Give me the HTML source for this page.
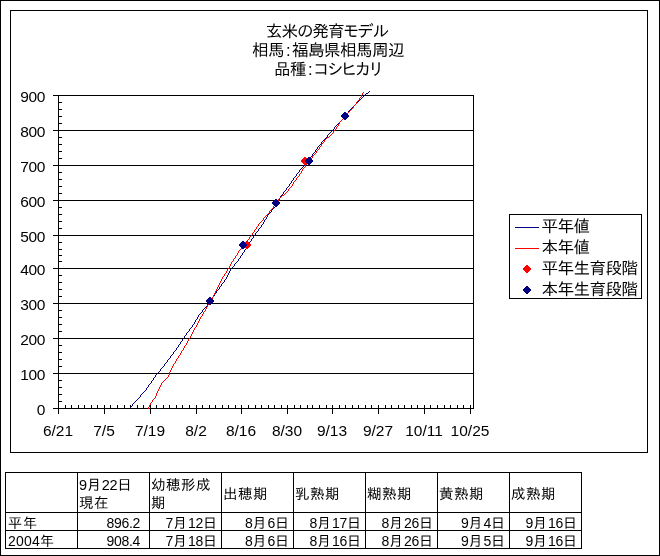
<!DOCTYPE html>
<html lang="ja"><head><meta charset="utf-8"><title>玄米の発育モデル</title>
<style>
html,body{margin:0;padding:0;background:#fff;}
body{width:660px;height:556px;position:relative;overflow:hidden;font-family:"Liberation Sans","IPAPGothic","IPAGothic",sans-serif;color:#000;}
.outer{position:absolute;left:0;top:0;width:660px;height:556px;box-sizing:border-box;border:1px solid #000;}
.frame{position:absolute;left:10px;top:10px;width:638px;height:443px;box-sizing:border-box;border:1px solid #000;}
.t{position:absolute;white-space:nowrap;}
.title{left:128px;width:400px;text-align:center;font-size:16.6px;line-height:19px;letter-spacing:-0.6px;}
.yl{font-size:15.5px;line-height:17px;width:40px;text-align:right;letter-spacing:-0.4px;}
.xl{font-size:15.5px;line-height:17px;width:60px;text-align:center;}
.c{margin:0 2px}
.k{letter-spacing:-0.3px}
.lg{font-size:16.6px;line-height:19px;left:541.5px;letter-spacing:-0.6px;}
table{position:absolute;left:5px;top:472px;border-collapse:collapse;table-layout:fixed;font-size:14px;letter-spacing:1px;}
td{border:1px solid #000;padding:4px 0 0 2px;width:69px;height:13px;line-height:13px;overflow:hidden;white-space:nowrap;box-sizing:content-box;vertical-align:top;}
tr.h td{height:36px;padding-top:3px;padding-left:1px;width:70px;font-size:14.5px;letter-spacing:0.5px;line-height:18px;white-space:normal;vertical-align:middle;}
td.r{text-align:right;padding:4px 3px 0 0;width:68px}
td.r.v{padding-right:9px;width:62px}
.n{letter-spacing:-0.3px}
.n2{letter-spacing:0.2px}
</style></head><body>
<div class="outer"></div>
<div class="frame"></div>
<svg width="660" height="556" viewBox="0 0 660 556" style="position:absolute;left:0;top:0" shape-rendering="crispEdges">
<rect x="53" y="95" width="421" height="1" fill="#000"/>
<rect x="53" y="130" width="421" height="1" fill="#000"/>
<rect x="53" y="165" width="421" height="1" fill="#000"/>
<rect x="53" y="200" width="421" height="1" fill="#000"/>
<rect x="53" y="235" width="421" height="1" fill="#000"/>
<rect x="53" y="268" width="421" height="1" fill="#000"/>
<rect x="53" y="303" width="421" height="1" fill="#000"/>
<rect x="53" y="338" width="421" height="1" fill="#000"/>
<rect x="53" y="373" width="421" height="1" fill="#000"/>
<rect x="53" y="408" width="421" height="1" fill="#000"/>
<rect x="58" y="95" width="1" height="319" fill="#000"/>
<rect x="473" y="95" width="1" height="314" fill="#000"/>
<rect x="58" y="95" width="4" height="1" fill="#000"/>
<rect x="58" y="102" width="4" height="1" fill="#000"/>
<rect x="58" y="109" width="4" height="1" fill="#000"/>
<rect x="58" y="116" width="4" height="1" fill="#000"/>
<rect x="58" y="123" width="4" height="1" fill="#000"/>
<rect x="58" y="130" width="4" height="1" fill="#000"/>
<rect x="58" y="137" width="4" height="1" fill="#000"/>
<rect x="58" y="144" width="4" height="1" fill="#000"/>
<rect x="58" y="151" width="4" height="1" fill="#000"/>
<rect x="58" y="158" width="4" height="1" fill="#000"/>
<rect x="58" y="165" width="4" height="1" fill="#000"/>
<rect x="58" y="172" width="4" height="1" fill="#000"/>
<rect x="58" y="179" width="4" height="1" fill="#000"/>
<rect x="58" y="186" width="4" height="1" fill="#000"/>
<rect x="58" y="193" width="4" height="1" fill="#000"/>
<rect x="58" y="200" width="4" height="1" fill="#000"/>
<rect x="58" y="207" width="4" height="1" fill="#000"/>
<rect x="58" y="214" width="4" height="1" fill="#000"/>
<rect x="58" y="221" width="4" height="1" fill="#000"/>
<rect x="58" y="228" width="4" height="1" fill="#000"/>
<rect x="58" y="235" width="4" height="1" fill="#000"/>
<rect x="58" y="242" width="4" height="1" fill="#000"/>
<rect x="58" y="249" width="4" height="1" fill="#000"/>
<rect x="58" y="255" width="4" height="1" fill="#000"/>
<rect x="58" y="261" width="4" height="1" fill="#000"/>
<rect x="58" y="268" width="4" height="1" fill="#000"/>
<rect x="58" y="275" width="4" height="1" fill="#000"/>
<rect x="58" y="282" width="4" height="1" fill="#000"/>
<rect x="58" y="289" width="4" height="1" fill="#000"/>
<rect x="58" y="296" width="4" height="1" fill="#000"/>
<rect x="58" y="303" width="4" height="1" fill="#000"/>
<rect x="58" y="310" width="4" height="1" fill="#000"/>
<rect x="58" y="317" width="4" height="1" fill="#000"/>
<rect x="58" y="324" width="4" height="1" fill="#000"/>
<rect x="58" y="331" width="4" height="1" fill="#000"/>
<rect x="58" y="338" width="4" height="1" fill="#000"/>
<rect x="58" y="345" width="4" height="1" fill="#000"/>
<rect x="58" y="352" width="4" height="1" fill="#000"/>
<rect x="58" y="359" width="4" height="1" fill="#000"/>
<rect x="58" y="366" width="4" height="1" fill="#000"/>
<rect x="58" y="373" width="4" height="1" fill="#000"/>
<rect x="58" y="380" width="4" height="1" fill="#000"/>
<rect x="58" y="387" width="4" height="1" fill="#000"/>
<rect x="58" y="394" width="4" height="1" fill="#000"/>
<rect x="58" y="401" width="4" height="1" fill="#000"/>
<rect x="58" y="408" width="4" height="1" fill="#000"/>
<rect x="58" y="405" width="1" height="4" fill="#000"/>
<rect x="65" y="405" width="1" height="4" fill="#000"/>
<rect x="71" y="405" width="1" height="4" fill="#000"/>
<rect x="78" y="405" width="1" height="4" fill="#000"/>
<rect x="84" y="405" width="1" height="4" fill="#000"/>
<rect x="91" y="405" width="1" height="4" fill="#000"/>
<rect x="97" y="405" width="1" height="4" fill="#000"/>
<rect x="104" y="405" width="1" height="4" fill="#000"/>
<rect x="110" y="405" width="1" height="4" fill="#000"/>
<rect x="117" y="405" width="1" height="4" fill="#000"/>
<rect x="124" y="405" width="1" height="4" fill="#000"/>
<rect x="130" y="405" width="1" height="4" fill="#000"/>
<rect x="137" y="405" width="1" height="4" fill="#000"/>
<rect x="143" y="405" width="1" height="4" fill="#000"/>
<rect x="150" y="405" width="1" height="4" fill="#000"/>
<rect x="156" y="405" width="1" height="4" fill="#000"/>
<rect x="163" y="405" width="1" height="4" fill="#000"/>
<rect x="169" y="405" width="1" height="4" fill="#000"/>
<rect x="176" y="405" width="1" height="4" fill="#000"/>
<rect x="182" y="405" width="1" height="4" fill="#000"/>
<rect x="189" y="405" width="1" height="4" fill="#000"/>
<rect x="196" y="405" width="1" height="4" fill="#000"/>
<rect x="202" y="405" width="1" height="4" fill="#000"/>
<rect x="209" y="405" width="1" height="4" fill="#000"/>
<rect x="215" y="405" width="1" height="4" fill="#000"/>
<rect x="222" y="405" width="1" height="4" fill="#000"/>
<rect x="228" y="405" width="1" height="4" fill="#000"/>
<rect x="235" y="405" width="1" height="4" fill="#000"/>
<rect x="241" y="405" width="1" height="4" fill="#000"/>
<rect x="248" y="405" width="1" height="4" fill="#000"/>
<rect x="255" y="405" width="1" height="4" fill="#000"/>
<rect x="261" y="405" width="1" height="4" fill="#000"/>
<rect x="268" y="405" width="1" height="4" fill="#000"/>
<rect x="274" y="405" width="1" height="4" fill="#000"/>
<rect x="281" y="405" width="1" height="4" fill="#000"/>
<rect x="287" y="405" width="1" height="4" fill="#000"/>
<rect x="294" y="405" width="1" height="4" fill="#000"/>
<rect x="300" y="405" width="1" height="4" fill="#000"/>
<rect x="307" y="405" width="1" height="4" fill="#000"/>
<rect x="312" y="405" width="1" height="4" fill="#000"/>
<rect x="319" y="405" width="1" height="4" fill="#000"/>
<rect x="326" y="405" width="1" height="4" fill="#000"/>
<rect x="332" y="405" width="1" height="4" fill="#000"/>
<rect x="339" y="405" width="1" height="4" fill="#000"/>
<rect x="345" y="405" width="1" height="4" fill="#000"/>
<rect x="352" y="405" width="1" height="4" fill="#000"/>
<rect x="358" y="405" width="1" height="4" fill="#000"/>
<rect x="365" y="405" width="1" height="4" fill="#000"/>
<rect x="371" y="405" width="1" height="4" fill="#000"/>
<rect x="378" y="405" width="1" height="4" fill="#000"/>
<rect x="385" y="405" width="1" height="4" fill="#000"/>
<rect x="391" y="405" width="1" height="4" fill="#000"/>
<rect x="398" y="405" width="1" height="4" fill="#000"/>
<rect x="404" y="405" width="1" height="4" fill="#000"/>
<rect x="411" y="405" width="1" height="4" fill="#000"/>
<rect x="417" y="405" width="1" height="4" fill="#000"/>
<rect x="424" y="405" width="1" height="4" fill="#000"/>
<rect x="430" y="405" width="1" height="4" fill="#000"/>
<rect x="437" y="405" width="1" height="4" fill="#000"/>
<rect x="444" y="405" width="1" height="4" fill="#000"/>
<rect x="450" y="405" width="1" height="4" fill="#000"/>
<rect x="457" y="405" width="1" height="4" fill="#000"/>
<rect x="463" y="405" width="1" height="4" fill="#000"/>
<rect x="470" y="405" width="1" height="4" fill="#000"/>
<rect x="58" y="405" width="1" height="9" fill="#000"/>
<rect x="104" y="405" width="1" height="9" fill="#000"/>
<rect x="150" y="405" width="1" height="9" fill="#000"/>
<rect x="196" y="405" width="1" height="9" fill="#000"/>
<rect x="241" y="405" width="1" height="9" fill="#000"/>
<rect x="287" y="405" width="1" height="9" fill="#000"/>
<rect x="332" y="405" width="1" height="9" fill="#000"/>
<rect x="378" y="405" width="1" height="9" fill="#000"/>
<rect x="424" y="405" width="1" height="9" fill="#000"/>
<rect x="470" y="405" width="1" height="9" fill="#000"/>
<path fill="#000080" d="M369 91h1v1h-1zM368 92h1v1h-1zM366 93h2v1h-2zM365 94h1v1h-1zM364 95h1v1h-1zM363 96h1v1h-1zM362 97h1v1h-1zM361 98h1v1h-1zM360 99h1v1h-1zM359 100h1v1h-1zM358 101h1v1h-1zM357 102h1v1h-1zM356 103h1v1h-1zM355 104h1v1h-1zM354 105h1v1h-1zM353 106h1v1h-1zM352 107h1v1h-1zM351 108h1v1h-1zM350 109h1v1h-1zM349 110h1v1h-1zM348 111h1v1h-1zM348 112h1v1h-1zM347 113h1v1h-1zM346 114h1v1h-1zM345 115h1v1h-1zM344 116h1v1h-1zM343 117h1v1h-1zM343 118h1v1h-1zM342 119h1v1h-1zM341 120h1v1h-1zM340 121h1v1h-1zM339 122h1v1h-1zM338 123h1v1h-1zM337 124h1v1h-1zM336 125h1v1h-1zM335 126h1v1h-1zM334 127h1v1h-1zM334 128h1v1h-1zM333 129h1v1h-1zM332 130h1v1h-1zM331 131h1v1h-1zM330 132h1v1h-1zM329 133h1v1h-1zM328 134h1v1h-1zM327 135h1v1h-1zM327 136h1v1h-1zM326 137h1v1h-1zM325 138h1v1h-1zM324 139h1v1h-1zM323 140h1v1h-1zM322 141h1v1h-1zM321 142h1v1h-1zM321 143h1v1h-1zM320 144h1v1h-1zM319 145h1v1h-1zM318 146h1v1h-1zM317 147h1v1h-1zM317 148h1v1h-1zM316 149h1v1h-1zM315 150h1v1h-1zM315 151h1v1h-1zM314 152h1v1h-1zM313 153h1v1h-1zM312 154h1v1h-1zM312 155h1v1h-1zM311 156h1v1h-1zM310 157h1v1h-1zM309 158h1v1h-1zM309 159h1v1h-1zM308 160h1v1h-1zM307 161h1v1h-1zM306 162h1v1h-1zM305 163h1v1h-1zM304 164h1v1h-1zM304 165h1v1h-1zM303 166h1v1h-1zM302 167h1v1h-1zM301 168h1v1h-1zM300 169h1v1h-1zM299 170h1v1h-1zM299 171h1v1h-1zM298 172h1v1h-1zM297 173h1v1h-1zM296 174h1v1h-1zM296 175h1v1h-1zM295 176h1v1h-1zM294 177h1v1h-1zM293 178h1v1h-1zM293 179h1v1h-1zM292 180h1v1h-1zM291 181h1v1h-1zM291 182h1v1h-1zM290 183h1v1h-1zM289 184h1v1h-1zM289 185h1v1h-1zM288 186h1v1h-1zM287 187h1v1h-1zM286 188h1v1h-1zM286 189h1v1h-1zM285 190h1v1h-1zM284 191h1v1h-1zM283 192h1v1h-1zM283 193h1v1h-1zM282 194h1v1h-1zM281 195h1v1h-1zM280 196h1v1h-1zM280 197h1v1h-1zM279 198h1v1h-1zM279 199h1v1h-1zM278 200h1v1h-1zM278 201h1v1h-1zM277 202h1v1h-1zM276 203h1v1h-1zM276 204h1v1h-1zM275 205h1v1h-1zM275 206h1v1h-1zM274 207h1v1h-1zM273 208h1v1h-1zM272 209h1v1h-1zM271 210h1v1h-1zM271 211h1v1h-1zM270 212h1v1h-1zM269 213h1v1h-1zM268 214h1v1h-1zM267 215h1v1h-1zM267 216h1v1h-1zM266 217h1v1h-1zM266 218h1v1h-1zM265 219h1v1h-1zM264 220h1v1h-1zM264 221h1v1h-1zM263 222h1v1h-1zM263 223h1v1h-1zM262 224h1v1h-1zM261 225h1v1h-1zM261 226h1v1h-1zM260 227h1v1h-1zM259 228h1v1h-1zM258 229h1v1h-1zM258 230h1v1h-1zM257 231h1v1h-1zM256 232h1v1h-1zM255 233h1v1h-1zM255 234h1v1h-1zM254 235h1v1h-1zM253 236h1v1h-1zM253 237h1v1h-1zM252 238h1v1h-1zM251 239h1v1h-1zM251 240h1v1h-1zM250 241h1v1h-1zM249 242h1v1h-1zM249 243h1v1h-1zM248 244h1v1h-1zM248 245h1v1h-1zM247 246h1v1h-1zM246 247h1v1h-1zM246 248h1v1h-1zM245 249h1v1h-1zM244 250h1v1h-1zM244 251h1v1h-1zM243 252h1v1h-1zM242 253h1v1h-1zM242 254h1v1h-1zM241 255h1v1h-1zM240 256h1v1h-1zM240 257h1v1h-1zM239 258h1v1h-1zM238 259h1v1h-1zM238 260h1v1h-1zM237 261h1v1h-1zM236 262h1v1h-1zM235 263h1v1h-1zM234 264h1v1h-1zM234 265h1v1h-1zM233 266h1v1h-1zM232 267h1v1h-1zM231 268h1v1h-1zM230 269h1v1h-1zM230 270h1v1h-1zM229 271h1v1h-1zM229 272h1v1h-1zM228 273h1v1h-1zM228 274h1v1h-1zM227 275h1v1h-1zM227 276h1v1h-1zM226 277h1v1h-1zM226 278h1v1h-1zM225 279h1v1h-1zM224 280h1v1h-1zM224 281h1v1h-1zM223 282h1v1h-1zM222 283h1v1h-1zM221 284h1v1h-1zM221 285h1v1h-1zM220 286h1v1h-1zM219 287h1v1h-1zM219 288h1v1h-1zM218 289h1v1h-1zM217 290h1v1h-1zM216 291h1v1h-1zM216 292h1v1h-1zM215 293h1v1h-1zM214 294h1v1h-1zM214 295h1v1h-1zM213 296h1v1h-1zM212 297h1v1h-1zM211 298h1v1h-1zM211 299h1v1h-1zM210 300h1v1h-1zM209 301h1v1h-1zM209 302h1v1h-1zM208 303h1v1h-1zM207 304h1v1h-1zM207 305h1v1h-1zM206 306h1v1h-1zM205 307h1v1h-1zM204 308h1v1h-1zM203 309h1v1h-1zM202 310h1v1h-1zM202 311h1v1h-1zM201 312h1v1h-1zM200 313h1v1h-1zM199 314h1v1h-1zM198 315h1v1h-1zM198 316h1v1h-1zM197 317h1v1h-1zM197 318h1v1h-1zM196 319h1v1h-1zM195 320h1v1h-1zM195 321h1v1h-1zM194 322h1v1h-1zM194 323h1v1h-1zM193 324h1v1h-1zM192 325h1v1h-1zM192 326h1v1h-1zM191 327h1v1h-1zM190 328h1v1h-1zM189 329h1v1h-1zM189 330h1v1h-1zM188 331h1v1h-1zM187 332h1v1h-1zM186 333h1v1h-1zM186 334h1v1h-1zM185 335h1v1h-1zM184 336h1v1h-1zM184 337h1v1h-1zM183 338h1v1h-1zM182 339h1v1h-1zM182 340h1v1h-1zM181 341h1v1h-1zM180 342h1v1h-1zM180 343h1v1h-1zM179 344h1v1h-1zM178 345h1v1h-1zM178 346h1v1h-1zM177 347h1v1h-1zM176 348h1v1h-1zM176 349h1v1h-1zM175 350h1v1h-1zM174 351h1v1h-1zM173 352h1v1h-1zM173 353h1v1h-1zM172 354h1v1h-1zM171 355h1v1h-1zM170 356h1v1h-1zM170 357h1v1h-1zM169 358h1v1h-1zM168 359h1v1h-1zM167 360h1v1h-1zM167 361h1v1h-1zM166 362h1v1h-1zM165 363h1v1h-1zM164 364h1v1h-1zM164 365h1v1h-1zM163 366h1v1h-1zM162 367h1v1h-1zM161 368h1v1h-1zM160 369h1v1h-1zM160 370h1v1h-1zM159 371h1v1h-1zM158 372h1v1h-1zM157 373h1v1h-1zM156 374h1v1h-1zM155 375h1v1h-1zM155 376h1v1h-1zM154 377h1v1h-1zM153 378h1v1h-1zM153 379h1v1h-1zM152 380h1v1h-1zM151 381h1v1h-1zM151 382h1v1h-1zM150 383h1v1h-1zM149 384h1v1h-1zM148 385h1v1h-1zM148 386h1v1h-1zM147 387h1v1h-1zM146 388h1v1h-1zM146 389h1v1h-1zM145 390h1v1h-1zM144 391h1v1h-1zM143 392h1v1h-1zM142 393h1v1h-1zM141 394h1v1h-1zM140 395h1v1h-1zM140 396h1v1h-1zM139 397h1v1h-1zM138 398h1v1h-1zM137 399h1v1h-1zM136 400h1v1h-1zM135 401h1v1h-1zM134 402h1v1h-1zM133 403h1v1h-1zM132 404h1v1h-1zM132 405h1v1h-1zM131 406h1v1h-1zM130 407h1v1h-1zM129 408h1v1h-1z"/>
<path fill="#ff0000" d="M363 92h1v1h-1zM362 93h1v1h-1zM362 94h1v1h-1zM361 95h1v1h-1zM361 96h1v1h-1zM360 97h1v1h-1zM359 98h1v1h-1zM359 99h1v1h-1zM358 100h1v1h-1zM357 101h1v1h-1zM356 102h1v1h-1zM356 103h1v1h-1zM355 104h1v1h-1zM354 105h1v1h-1zM353 106h1v1h-1zM353 107h1v1h-1zM352 108h1v1h-1zM351 109h1v1h-1zM350 110h1v1h-1zM349 111h1v1h-1zM348 112h1v1h-1zM347 113h1v1h-1zM346 114h1v1h-1zM345 115h1v1h-1zM345 116h1v1h-1zM344 117h1v1h-1zM343 118h1v1h-1zM342 119h1v1h-1zM341 120h1v1h-1zM340 121h1v1h-1zM339 122h1v1h-1zM339 123h1v1h-1zM338 124h1v1h-1zM338 125h1v1h-1zM337 126h1v1h-1zM336 127h1v1h-1zM336 128h1v1h-1zM335 129h1v1h-1zM334 130h1v1h-1zM333 131h1v1h-1zM333 132h1v1h-1zM332 133h1v1h-1zM331 134h1v1h-1zM330 135h1v1h-1zM329 136h1v1h-1zM327 137h2v1h-2zM326 138h1v1h-1zM325 139h1v1h-1zM324 140h1v1h-1zM324 141h1v1h-1zM323 142h1v1h-1zM322 143h1v1h-1zM321 144h1v1h-1zM321 145h1v1h-1zM320 146h1v1h-1zM319 147h1v1h-1zM319 148h1v1h-1zM318 149h1v1h-1zM317 150h1v1h-1zM316 151h1v1h-1zM316 152h1v1h-1zM315 153h1v1h-1zM314 154h1v1h-1zM313 155h1v1h-1zM312 156h1v1h-1zM312 157h1v1h-1zM311 158h1v1h-1zM310 159h1v1h-1zM309 160h1v1h-1zM309 161h1v1h-1zM308 162h1v1h-1zM307 163h1v1h-1zM306 164h1v1h-1zM305 165h1v1h-1zM305 166h1v1h-1zM304 167h1v1h-1zM303 168h1v1h-1zM302 169h1v1h-1zM302 170h1v1h-1zM301 171h1v1h-1zM301 172h1v1h-1zM300 173h1v1h-1zM299 174h1v1h-1zM299 175h1v1h-1zM298 176h1v1h-1zM297 177h1v1h-1zM296 178h1v1h-1zM296 179h1v1h-1zM295 180h1v1h-1zM294 181h1v1h-1zM293 182h1v1h-1zM293 183h1v1h-1zM292 184h1v1h-1zM292 185h1v1h-1zM291 186h1v1h-1zM290 187h1v1h-1zM289 188h1v1h-1zM288 189h1v1h-1zM288 190h1v1h-1zM287 191h1v1h-1zM286 192h1v1h-1zM285 193h1v1h-1zM284 194h1v1h-1zM282 195h2v1h-2zM281 196h1v1h-1zM280 197h1v1h-1zM279 198h1v1h-1zM278 199h1v1h-1zM278 200h1v1h-1zM277 201h1v1h-1zM276 202h1v1h-1zM276 203h1v1h-1zM275 204h1v1h-1zM274 205h1v1h-1zM273 206h1v1h-1zM273 207h1v1h-1zM272 208h1v1h-1zM271 209h1v1h-1zM270 210h1v1h-1zM269 211h1v1h-1zM269 212h1v1h-1zM268 213h1v1h-1zM267 214h1v1h-1zM266 215h1v1h-1zM265 216h1v1h-1zM264 217h1v1h-1zM263 218h1v1h-1zM263 219h1v1h-1zM262 220h1v1h-1zM261 221h1v1h-1zM260 222h1v1h-1zM259 223h1v1h-1zM258 224h1v1h-1zM258 225h1v1h-1zM257 226h1v1h-1zM256 227h1v1h-1zM256 228h1v1h-1zM255 229h1v1h-1zM254 230h1v1h-1zM254 231h1v1h-1zM253 232h1v1h-1zM252 233h1v1h-1zM252 234h1v1h-1zM251 235h1v1h-1zM250 236h1v1h-1zM249 237h1v1h-1zM249 238h1v1h-1zM248 239h1v1h-1zM247 240h1v1h-1zM246 241h1v1h-1zM245 242h1v1h-1zM244 243h1v1h-1zM244 244h1v1h-1zM243 245h1v1h-1zM242 246h1v1h-1zM241 247h1v1h-1zM241 248h1v1h-1zM240 249h1v1h-1zM239 250h1v1h-1zM238 251h1v1h-1zM238 252h1v1h-1zM237 253h1v1h-1zM237 254h1v1h-1zM236 255h1v1h-1zM235 256h1v1h-1zM235 257h1v1h-1zM234 258h1v1h-1zM233 259h1v1h-1zM233 260h1v1h-1zM232 261h1v1h-1zM231 262h1v1h-1zM231 263h1v1h-1zM230 264h1v1h-1zM230 265h1v1h-1zM229 266h1v1h-1zM229 267h1v1h-1zM228 268h1v1h-1zM227 269h1v1h-1zM227 270h1v1h-1zM226 271h1v1h-1zM226 272h1v1h-1zM225 273h1v1h-1zM224 274h1v1h-1zM224 275h1v1h-1zM223 276h1v1h-1zM222 277h1v1h-1zM222 278h1v1h-1zM221 279h1v1h-1zM221 280h1v1h-1zM220 281h1v1h-1zM220 282h1v1h-1zM219 283h1v1h-1zM219 284h1v1h-1zM218 285h1v1h-1zM218 286h1v1h-1zM217 287h1v1h-1zM217 288h1v1h-1zM216 289h1v1h-1zM216 290h1v1h-1zM215 291h1v1h-1zM215 292h1v1h-1zM214 293h1v1h-1zM214 294h1v1h-1zM213 295h1v1h-1zM213 296h1v1h-1zM212 297h1v1h-1zM212 298h1v1h-1zM211 299h1v1h-1zM210 300h1v1h-1zM210 301h1v1h-1zM209 302h1v1h-1zM209 303h1v1h-1zM208 304h1v1h-1zM207 305h1v1h-1zM207 306h1v1h-1zM206 307h1v1h-1zM206 308h1v1h-1zM205 309h1v1h-1zM205 310h1v1h-1zM204 311h1v1h-1zM203 312h1v1h-1zM203 313h1v1h-1zM202 314h1v1h-1zM202 315h1v1h-1zM201 316h1v1h-1zM200 317h1v1h-1zM200 318h1v1h-1zM199 319h1v1h-1zM199 320h1v1h-1zM198 321h1v1h-1zM198 322h1v1h-1zM197 323h1v1h-1zM197 324h1v1h-1zM196 325h1v1h-1zM196 326h1v1h-1zM195 327h1v1h-1zM194 328h1v1h-1zM194 329h1v1h-1zM193 330h1v1h-1zM193 331h1v1h-1zM192 332h1v1h-1zM192 333h1v1h-1zM191 334h1v1h-1zM191 335h1v1h-1zM190 336h1v1h-1zM190 337h1v1h-1zM189 338h1v1h-1zM188 339h1v1h-1zM188 340h1v1h-1zM187 341h1v1h-1zM187 342h1v1h-1zM186 343h1v1h-1zM186 344h1v1h-1zM185 345h1v1h-1zM184 346h1v1h-1zM184 347h1v1h-1zM183 348h1v1h-1zM183 349h1v1h-1zM182 350h1v1h-1zM181 351h1v1h-1zM181 352h1v1h-1zM180 353h1v1h-1zM180 354h1v1h-1zM179 355h1v1h-1zM178 356h1v1h-1zM178 357h1v1h-1zM177 358h1v1h-1zM176 359h1v1h-1zM176 360h1v1h-1zM175 361h1v1h-1zM175 362h1v1h-1zM174 363h1v1h-1zM173 364h1v1h-1zM173 365h1v1h-1zM172 366h1v1h-1zM172 367h1v1h-1zM171 368h1v1h-1zM171 369h1v1h-1zM170 370h1v1h-1zM170 371h1v1h-1zM169 372h1v1h-1zM169 373h1v1h-1zM169 374h1v1h-1zM168 375h1v1h-1zM168 376h1v1h-1zM167 377h1v1h-1zM166 378h1v1h-1zM165 379h1v1h-1zM164 380h1v1h-1zM163 381h1v1h-1zM162 382h1v1h-1zM161 383h1v1h-1zM161 384h1v1h-1zM160 385h1v1h-1zM160 386h1v1h-1zM159 387h1v1h-1zM159 388h1v1h-1zM158 389h1v1h-1zM158 390h1v1h-1zM157 391h1v1h-1zM157 392h1v1h-1zM156 393h1v1h-1zM156 394h1v1h-1zM156 395h1v1h-1zM155 396h1v1h-1zM155 397h1v1h-1zM154 398h1v1h-1zM153 399h1v1h-1zM152 400h1v1h-1zM152 401h1v1h-1zM151 402h1v1h-1zM150 403h1v1h-1zM150 404h1v1h-1zM149 405h1v1h-1zM149 406h1v1h-1zM148 407h1v1h-1zM148 408h1v1h-1z"/>
<path fill="#ff0000" d="M246 241h2v1h-2zM245 242h4v1h-4zM244 243h6v1h-6zM243 244h8v1h-8zM243 245h8v1h-8zM244 246h6v1h-6zM245 247h4v1h-4zM246 248h2v1h-2z"/>
<path fill="#ff0000" d="M304 157h2v1h-2zM303 158h4v1h-4zM302 159h6v1h-6zM301 160h8v1h-8zM301 161h8v1h-8zM302 162h6v1h-6zM303 163h4v1h-4zM304 164h2v1h-2z"/>
<path fill="#000080" d="M209 297h2v1h-2zM208 298h4v1h-4zM207 299h6v1h-6zM206 300h8v1h-8zM206 301h8v1h-8zM207 302h6v1h-6zM208 303h4v1h-4zM209 304h2v1h-2z"/>
<path fill="#000080" d="M242 241h2v1h-2zM241 242h4v1h-4zM240 243h6v1h-6zM239 244h8v1h-8zM239 245h8v1h-8zM240 246h6v1h-6zM241 247h4v1h-4zM242 248h2v1h-2z"/>
<path fill="#000080" d="M275 199h2v1h-2zM274 200h4v1h-4zM273 201h6v1h-6zM272 202h8v1h-8zM272 203h8v1h-8zM273 204h6v1h-6zM274 205h4v1h-4zM275 206h2v1h-2z"/>
<path fill="#000080" d="M308 157h2v1h-2zM307 158h4v1h-4zM306 159h6v1h-6zM305 160h8v1h-8zM305 161h8v1h-8zM306 162h6v1h-6zM307 163h4v1h-4zM308 164h2v1h-2z"/>
<path fill="#000080" d="M344 112h2v1h-2zM343 113h4v1h-4zM342 114h6v1h-6zM341 115h8v1h-8zM341 116h8v1h-8zM342 117h6v1h-6zM343 118h4v1h-4zM344 119h2v1h-2z"/>
<rect x="509.5" y="214.5" width="132" height="84" fill="#fff" stroke="#000" stroke-width="1"/>
<rect x="515" y="227" width="24" height="1" fill="#000080"/>
<rect x="515" y="248" width="24" height="1" fill="#ff0000"/>
<path fill="#ff0000" d="M526 265h2v1h-2zM525 266h4v1h-4zM524 267h6v1h-6zM523 268h8v1h-8zM523 269h8v1h-8zM524 270h6v1h-6zM525 271h4v1h-4zM526 272h2v1h-2z"/>
<path fill="#000080" d="M526 286h2v1h-2zM525 287h4v1h-4zM524 288h6v1h-6zM523 289h8v1h-8zM523 290h8v1h-8zM524 291h6v1h-6zM525 292h4v1h-4zM526 293h2v1h-2z"/>
</svg>
<div class="t title" style="top:22px;left:127px;letter-spacing:-0.9px">玄米の発育モデル</div>
<div class="t title" style="top:41px">相馬<span class="c">:</span>福島県相馬周辺</div>
<div class="t title" style="top:60px">品種<span class="c">:</span><span class="k">コシヒカリ</span></div>
<div class="t yl" style="left:5px;top:88px">900</div>
<div class="t yl" style="left:5px;top:123px">800</div>
<div class="t yl" style="left:5px;top:158px">700</div>
<div class="t yl" style="left:5px;top:193px">600</div>
<div class="t yl" style="left:5px;top:228px">500</div>
<div class="t yl" style="left:5px;top:261px">400</div>
<div class="t yl" style="left:5px;top:296px">300</div>
<div class="t yl" style="left:5px;top:331px">200</div>
<div class="t yl" style="left:5px;top:366px">100</div>
<div class="t yl" style="left:5px;top:401px">0</div>
<div class="t xl" style="left:28px;top:422px">6/21</div>
<div class="t xl" style="left:74px;top:422px">7/5</div>
<div class="t xl" style="left:120px;top:422px">7/19</div>
<div class="t xl" style="left:166px;top:422px">8/2</div>
<div class="t xl" style="left:211px;top:422px">8/16</div>
<div class="t xl" style="left:257px;top:422px">8/30</div>
<div class="t xl" style="left:302px;top:422px">9/13</div>
<div class="t xl" style="left:348px;top:422px">9/27</div>
<div class="t xl" style="left:394px;top:422px">10/11</div>
<div class="t xl" style="left:440px;top:422px">10/25</div>
<div class="t lg" style="top:217px">平年値</div>
<div class="t lg" style="top:238px">本年値</div>
<div class="t lg" style="top:259px">平年生育段階</div>
<div class="t lg" style="top:280px">本年生育段階</div>
<table><tr class="h"><td></td><td><span class="n">9</span>月<span class="n">22</span>日<br>現在</td><td>幼穂形成<br>期</td><td>出穂期</td><td>乳熟期</td><td>糊熟期</td><td>黄熟期</td><td>成熟期</td></tr><tr><td>平年</td><td class="r v"><span class="n">896.2</span></td><td class="r"><span class="n">7</span>月<span class="n">12</span>日</td><td class="r"><span class="n">8</span>月<span class="n">6</span>日</td><td class="r"><span class="n">8</span>月<span class="n">17</span>日</td><td class="r"><span class="n">8</span>月<span class="n">26</span>日</td><td class="r"><span class="n">9</span>月<span class="n">4</span>日</td><td class="r"><span class="n">9</span>月<span class="n">16</span>日</td></tr><tr><td><span class="n2">2004</span>年</td><td class="r v"><span class="n">908.4</span></td><td class="r"><span class="n">7</span>月<span class="n">18</span>日</td><td class="r"><span class="n">8</span>月<span class="n">6</span>日</td><td class="r"><span class="n">8</span>月<span class="n">16</span>日</td><td class="r"><span class="n">8</span>月<span class="n">26</span>日</td><td class="r"><span class="n">9</span>月<span class="n">5</span>日</td><td class="r"><span class="n">9</span>月<span class="n">16</span>日</td></tr></table>
</body></html>
